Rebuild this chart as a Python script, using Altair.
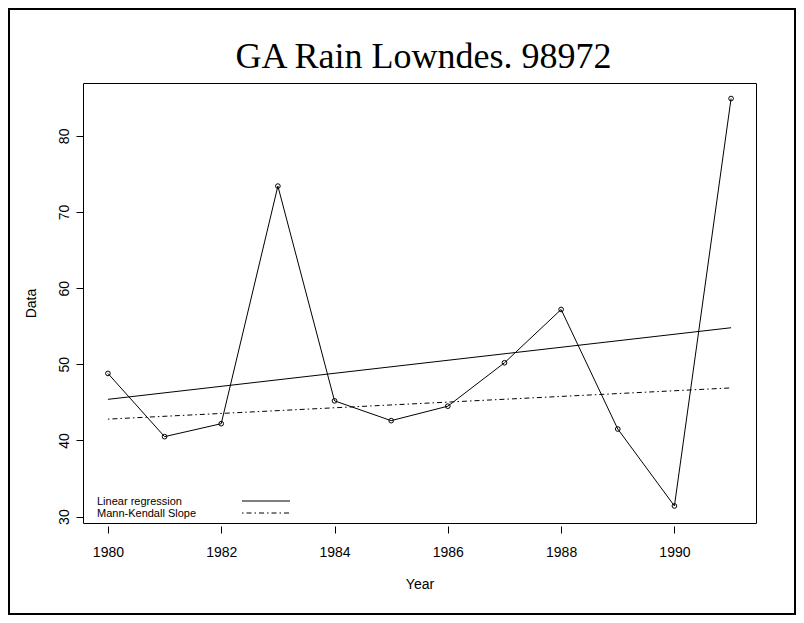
import altair as alt
import pandas as pd

# ---- data ----
years = [1980, 1981, 1982, 1983, 1984, 1985, 1986, 1987, 1988, 1989, 1990, 1991]
rain = [48.8, 40.5, 42.2, 73.4, 45.2, 42.6, 44.5, 50.2, 57.2, 41.5, 31.4, 84.9]

reg_years = [1980, 1991]
reg_values = [45.4, 54.8]          # linear regression
mk_values = [42.8, 46.9]           # Mann-Kendall slope

x_ticks = [1980, 1982, 1984, 1986, 1988, 1990]
y_ticks = [30, 40, 50, 60, 70, 80]
x_domain = [1979.56, 1991.44]
y_domain = [29.16, 86.94]

title_text = "GA Rain Lowndes. 98972"
legend_labels = ["Linear regression", "Mann-Kendall Slope"]

W, H = 673, 440
SANS = "Liberation Sans"
SERIF = "Liberation Serif"

df = pd.DataFrame({"Year": years, "Data": rain})
reg = pd.DataFrame({"Year": reg_years, "Data": reg_values})
mk = pd.DataFrame({"Year": reg_years, "Data": mk_values})
one = pd.DataFrame({"a": [0]})

xs = alt.Scale(domain=x_domain, nice=False, zero=False)
ys = alt.Scale(domain=y_domain, nice=False, zero=False)

xaxis = alt.Axis(values=x_ticks, format="d", grid=False, domain=False,
                 tickSize=7, tickColor="black", offset=3,
                 labelFont=SANS, labelFontSize=14, labelColor="black",
                 labelBaseline="alphabetic", labelPadding=23,
                 title="Year", titleFont=SANS, titleFontSize=14,
                 titleFontWeight="normal", titleColor="black",
                 titleBaseline="alphabetic", titleY=62, titleX=W / 2,
                 titleAlign="center")
yaxis = alt.Axis(values=y_ticks, grid=False, domain=False,
                 tickSize=7, tickColor="black",
                 labelFont=SANS, labelFontSize=14, labelColor="black",
                 labelAngle=-90, labelAlign="center", labelBaseline="alphabetic",
                 labelPadding=8,
                 title="Data", titleFont=SANS, titleFontSize=14,
                 titleFontWeight="normal", titleColor="black",
                 titleAngle=-90, titleBaseline="alphabetic", titleAlign="center",
                 titleX=-48, titleY=H / 2)

line = alt.Chart(df).mark_line(color="black", strokeWidth=1).encode(
    x=alt.X("Year:Q", scale=xs, axis=xaxis),
    y=alt.Y("Data:Q", scale=ys, axis=yaxis),
)
pts = alt.Chart(df).mark_point(shape="circle", filled=False, color="black",
                               size=22, strokeWidth=1, opacity=1).encode(
    x=alt.X("Year:Q", scale=xs),
    y=alt.Y("Data:Q", scale=ys),
)
reg_line = alt.Chart(reg).mark_line(color="black", strokeWidth=1).encode(
    x=alt.X("Year:Q", scale=xs),
    y=alt.Y("Data:Q", scale=ys),
)
mk_line = alt.Chart(mk).mark_line(color="black", strokeWidth=1,
                                  strokeDash=[1.5, 3, 5, 3]).encode(
    x=alt.X("Year:Q", scale=xs),
    y=alt.Y("Data:Q", scale=ys),
)

# legend
leg_t1 = alt.Chart(one).mark_text(text=legend_labels[0], font=SANS, fontSize=11,
                                  align="left", baseline="middle", color="black").encode(
    x=alt.value(14), y=alt.value(419))
leg_t2 = alt.Chart(one).mark_text(text=legend_labels[1], font=SANS, fontSize=11,
                                  align="left", baseline="middle", color="black").encode(
    x=alt.value(14), y=alt.value(431))
leg_l1 = alt.Chart(one).mark_rule(color="black", strokeWidth=1).encode(
    x=alt.value(159), x2=alt.value(207), y=alt.value(418))
leg_l2 = alt.Chart(one).mark_rule(color="black", strokeWidth=1,
                                  strokeDash=[1.5, 3, 5, 3]).encode(
    x=alt.value(159), x2=alt.value(207), y=alt.value(430))

# title
title = alt.Chart(one).mark_text(text=title_text, font=SERIF, fontSize=36,
                                 align="center", baseline="alphabetic",
                                 color="black").encode(
    x=alt.value(W / 2 + 4), y=alt.value(-15))

# outer frame
frame = alt.Chart(one).mark_rect(filled=False, stroke="black", strokeWidth=2,
                                 clip=False).encode(
    x=alt.value(-74), x2=alt.value(712), y=alt.value(-74), y2=alt.value(531))

chart = alt.layer(frame, reg_line, mk_line, line, pts, leg_t1, leg_t2, leg_l1,
                  leg_l2, title).properties(
    width=W, height=H,
    autosize=alt.AutoSizeParams(type="none"),
    padding={"left": 75, "top": 75, "right": 40, "bottom": 92},
    background="white",
).configure_view(stroke="black", strokeWidth=1)

chart.save("out.html", embed_options={"renderer": "svg", "actions": False})
